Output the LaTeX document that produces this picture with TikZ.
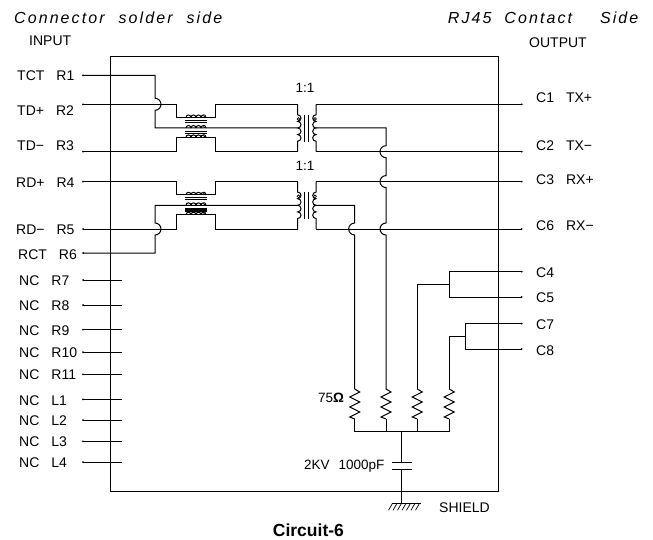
\documentclass[tikz,border=0pt]{standalone}
\usepackage{fontspec}
\setmainfont{Liberation Sans}
\newfontfamily\headfont[LetterSpace=13]{Liberation Sans}
\newcommand{\gp}{\hspace{12pt}}
\tikzset{
    wire/.style={line width=1pt, line join=miter},
    pinlabel/.style={anchor=west, inner sep=0pt, text height=10pt, text depth=0pt, font=\fontsize{14}{14}\selectfont},
    smalllabel/.style={inner sep=0pt, text height=9.5pt, text depth=0pt, font=\fontsize{13.5}{13.5}\selectfont},
    headlabel/.style={anchor=west, inner sep=0pt, text height=11.5pt, text depth=0pt, font=\fontsize{16}{16}\headfont\itshape},
    pics/choke/.style={code={
        \coordinate (-a) at (-19.3,-10.5);
        \coordinate (-b) at (19.7,-10.5);
        \coordinate (-c) at (-19.3,9.4);
        \coordinate (-d) at (19.7,9.4);
        \foreach \yy in {-7.8,-5.8,3.8,5.8}
            \draw[line width=1.2pt] (-11,\yy) -- (11,\yy);
        \foreach \yy in {-10.5,0,9.4} {
            \foreach \xx in {-10,-5,0,5}
                \draw[line width=1pt] (\xx,\yy) arc[start angle=180, end angle=360, radius=2.5];
            \draw[line width=0.5pt, fill=white] (8.5,\yy-1.6) circle (1);
        }
    }},
    pics/isoxfmr/.style={code={
        \coordinate (-pa) at (-8.8,-23.7);
        \coordinate (-pb) at (-8.8,23.7);
        \coordinate (-pc) at (-8.8,0);
        \coordinate (-sa) at (9.5,-23.7);
        \coordinate (-sb) at (9.5,23.7);
        \coordinate (-sc) at (9.5,0);
        \draw[wire] (-pa) -- (-8.8,-13.2)
            \foreach \i in {1,...,4} { arc[start angle=-90, end angle=90, radius=3.3] } -- (-pb);
        \draw[wire] (-sa) -- (9.5,-13.2)
            \foreach \i in {1,...,4} { arc[start angle=270, end angle=90, radius=3.3] } -- (-sb);
        \draw[wire] (-1.6,-13.2) -- (-1.6,13.6);
        \draw[wire] (1.6,-13.2) -- (1.6,13.6);
        \draw[line width=0.6pt, fill=white] (-8,-9) circle (1.4);
        \draw[line width=0.6pt, fill=white] (8.5,-9) circle (1.4);
    }},
    pics/resist/.style={code={
        \coordinate (-t) at (0,-15);
        \coordinate (-b) at (0,15);
        \draw[wire] (-t) -- (5,-12) -- (-5,-7) -- (5,-2) -- (-5,3) -- (5,8) -- (-5,13) -- (-b);
    }}
}
\begin{document}
\begin{tikzpicture}[x=1pt, y=-1pt]
    \useasboundingbox (0,0) rectangle (653,540);

    % Frame
    \draw[wire] (110.3,56.7) rectangle (498.3,491.7);

    % Pins, left side
    \foreach \pin/\yy in {R1/75.3,R2/104.3,R3/151.7,R4/181.6,R5/229,R6/253} {
        \coordinate (\pin) at (83,\yy);
        \fill (\pin) circle (1);
    }
    \foreach \pin/\yy in {R7/280,R8/305,R9/329.7,R10/352,R11/374.3,L1/399.3,L2/420,L3/441.3,L4/462} {
        \coordinate (\pin) at (83,\yy);
        \fill (\pin) circle (1);
        \draw[wire] (\pin) -- ++(38.7,0);
    }

    % Pins, right side
    \foreach \pin/\yy in {C1/104.3,C2/151.7,C3/181.6,C6/229,C4/271.7,C5/297,C7/323.7,C8/349} {
        \coordinate (\pin) at (521.7,\yy);
        \fill (\pin) circle (1);
    }

    % Pin labels
    \node[pinlabel] (lbR1) at (17,76) {TCT\gp R1};
    \node[pinlabel] (lbR2) at (17,110.7) {TD+\gp R2};
    \node[pinlabel] (lbR3) at (17,146) {TD−\gp R3};
    \node[pinlabel] (lbR4) at (16,183) {RD+\gp R4};
    \node[pinlabel] (lbR5) at (16,229) {RD−\gp R5};
    \node[pinlabel] (lbR6) at (18,254) {RCT\gp R6};
    \node[pinlabel] (lbR7) at (19,280.7) {NC\gp R7};
    \node[pinlabel] (lbR8) at (19,305.7) {NC\gp R8};
    \node[pinlabel] (lbR9) at (19,330) {NC\gp R9};
    \node[pinlabel] (lbR10) at (19,352) {NC\gp R10};
    \node[pinlabel] (lbR11) at (19,374.7) {NC\gp R11};
    \node[pinlabel] (lbL1) at (19,400) {NC\gp L1};
    \node[pinlabel] (lbL2) at (19,420.7) {NC\gp L2};
    \node[pinlabel] (lbL3) at (19,441.7) {NC\gp L3};
    \node[pinlabel] (lbL4) at (19,462.3) {NC\gp L4};
    \node[pinlabel] (lbC1) at (536,98) {C1\gp TX+};
    \node[pinlabel] (lbC2) at (536,145.7) {C2\gp TX−};
    \node[pinlabel] (lbC3) at (536,180) {C3\gp RX+};
    \node[pinlabel] (lbC6) at (536,225.7) {C6\gp RX−};
    \node[pinlabel] (lbC4) at (536,272.3) {C4};
    \node[pinlabel] (lbC5) at (536,297.3) {C5};
    \node[pinlabel] (lbC7) at (536,324.3) {C7};
    \node[pinlabel] (lbC8) at (536,350) {C8};

    % Headings
    \node[headlabel] (inhead) at (14,18) {Connector\hspace{14pt}solder\hspace{14pt}side};
    \node[pinlabel] (inlabel) at (29,41) {INPUT};
    \node[headlabel] (outhead) at (447.7,18) {RJ45\hspace{13pt}Contact\hspace{28pt}Side};
    \node[pinlabel] (outlabel) at (529,42.7) {OUTPUT};

    % Transformers
    \pic (L1x) at (196,128) {choke};
    \pic (L2x) at (196,205.3) {choke};
    \pic (T1) at (306.5,128) {isoxfmr};
    \pic (T2) at (306.5,205.3) {isoxfmr};
    \node[smalllabel] (ratA) at (305,88) {1:1};
    \node[smalllabel] (ratB) at (305,165.7) {1:1};

    % Jump points
    \coordinate (jmpA) at (155,98.3);
    \coordinate (jmpB) at (155,235);
    \coordinate (jmpC) at (386,145.7);
    \coordinate (jmpD) at (386,175.6);
    \coordinate (jmpE) at (386,223);
    \coordinate (jmpF) at (354.7,223);

    % Resistors
    \foreach \res/\xx in {Ra/354.7,Rb/386,Rc/417.3,Rd/449.3}
        \pic (\res) at (\xx,404) {resist};

    % Input side wires
    \draw[wire] (R1) -| (jmpA) arc[start angle=-90, end angle=90, radius=6] |- (T1-pc);
    \draw[wire] (R2) -| (L1x-a) -- (L1x-b) |- (T1-pa);
    \draw[wire] (R3) -| (L1x-c) -- (L1x-d) |- (T1-pb);
    \draw[wire] (R4) -| (L2x-a) -- (L2x-b) |- (T2-pa);
    \draw[wire] (R5) -| (L2x-c) -- (L2x-d) |- (T2-pb);
    \draw[wire] (R6) -| (jmpB) arc[start angle=90, end angle=-90, radius=6] |- (T2-pc);

    % Output side wires
    \draw[wire] (T1-sa) -- (C1);
    \draw[wire] (T1-sb) -- (C2);
    \draw[wire] (T2-sa) -- (C3);
    \draw[wire] (T2-sb) -- (C6);
    \draw[wire] (T1-sc) -| (jmpC) arc[start angle=270, end angle=90, radius=6]
        -- (jmpD) arc[start angle=270, end angle=90, radius=6]
        -- (jmpE) arc[start angle=270, end angle=90, radius=6] -- (Rb-t);
    \draw[wire] (T2-sc) -| (jmpF) arc[start angle=270, end angle=90, radius=6] -- (Ra-t);

    % Spare pairs
    \coordinate (teeA) at (449.3,284.3);
    \coordinate (teeB) at (465.7,336.3);
    \draw[wire] (C4) -| (teeA) |- (C5);
    \draw[wire] (C7) -| (teeB) |- (C8);
    \draw[wire] (teeA) -| (Rc-t);
    \draw[wire] (teeB) -| (Rd-t);

    % Bus and capacitor
    \coordinate (busC) at (401.7,431.3);
    \coordinate (capT) at (401.7,462.3);
    \coordinate (capB) at (401.7,469.3);
    \coordinate (gnd) at (401.7,503.3);
    \draw[wire] (Ra-b) |- (busC) -| (Rd-b);
    \draw[wire] (Rb-b) -- (Rb-b |- busC);
    \draw[wire] (Rc-b) -- (Rc-b |- busC);
    \draw[wire] (busC) -- (capT);
    \draw[wire] (capB) -- (gnd);
    \draw[wire] ([xshift=-10pt]capT) -- ([xshift=10pt]capT);
    \draw[wire] ([xshift=-10pt]capB) -- ([xshift=10pt]capB);

    % Ground
    \draw[wire] (392,503.3) -- (421,503.3);
    \foreach \xx in {392.5,397,...,421}
        \draw[line width=0.7pt] (\xx,503.3) -- ++(-4,7);

    % Component labels
    \node[smalllabel, anchor=west] (rlabel) at (318,398) {75{\bfseries Ω}};
    \node[smalllabel, anchor=west] (clabel) at (304,465) {2KV\hspace{9pt}1000pF};
    \node[pinlabel] (shield) at (439,507.7) {SHIELD};
    \node[inner sep=0pt, text height=12.5pt, text depth=0pt, font=\fontsize{17.5}{17.5}\selectfont\bfseries] (title) at (308.4,530.5) {Circuit-6};
\end{tikzpicture}
\end{document}
